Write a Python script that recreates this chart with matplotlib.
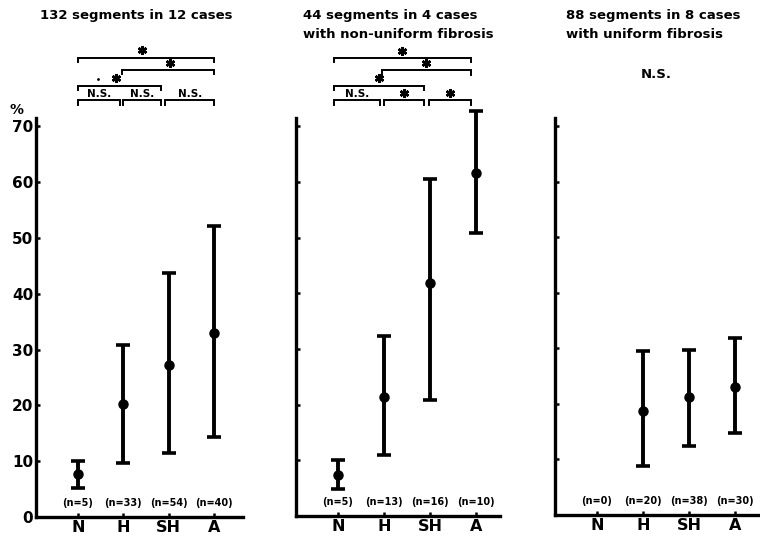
import matplotlib
matplotlib.use("Agg")
import matplotlib.pyplot as plt

plt.rcParams['font.family'] = ['DejaVu Sans']

categories = ["N", "H", "SH", "A"]

# Panel 1: 132 segments in 12 cases
p1_mean = [7.7, 20.2, 27.2, 32.9]
p1_low = [5.2, 9.7, 11.4, 14.3]
p1_high = [10.1, 30.8, 43.8, 52.1]
p1_n = ["(n=5)", "(n=33)", "(n=54)", "(n=40)"]

# Panel 2: non-uniform fibrosis
p2_mean = [7.3, 21.3, 41.9, 61.6]
p2_low = [4.8, 10.9, 20.9, 50.9]
p2_high = [10.0, 32.4, 60.5, 72.7]
p2_n = ["(n=5)", "(n=13)", "(n=16)", "(n=10)"]

# Panel 3: uniform fibrosis (no N data)
p3_mean = [None, 18.8, 21.3, 23.0]
p3_low = [None, 8.8, 12.5, 14.8]
p3_high = [None, 29.6, 29.8, 31.8]
p3_n = ["(n=0)", "(n=20)", "(n=38)", "(n=30)"]

yticks = [0, 10, 20, 30, 40, 50, 60, 70]

W, H = 760, 539
fig = plt.figure(figsize=(W / 100, H / 100), dpi=100)


def make_ax(left, right, bottom, top, xlo, xhi):
    ax = fig.add_axes([left / W, (H - bottom) / H, (right - left) / W, (bottom - top) / H])
    ax.set_xlim(xlo, xhi)
    ax.set_ylim(0, 71.5)
    for s in ["top", "right"]:
        ax.spines[s].set_visible(False)
    for s in ["left", "bottom"]:
        ax.spines[s].set_linewidth(2.4)
    ax.set_xticks(range(len(categories)))
    ax.set_xticklabels(categories, fontsize=11.5, fontweight="bold")
    ax.set_yticks(yticks)
    ax.tick_params(axis="both", direction="in", length=3, width=1.8)
    ax.tick_params(axis="x", pad=2)
    ax.tick_params(axis="y", pad=2)
    return ax


def draw_data(ax, mean, low, high, nlabels):
    for i, (m, lo, hi) in enumerate(zip(mean, low, high)):
        if m is None:
            continue
        ax.errorbar([i], [m], yerr=[[m - lo], [hi - m]], fmt="o", color="black",
                    markersize=6.5, elinewidth=2.8, capsize=5, capthick=2.6,
                    clip_on=False, zorder=3)
    for i, t in enumerate(nlabels):
        ax.text(i, 2.5, t, ha="center", va="center", fontsize=7,
                fontweight="bold")


def bracket(ax, x0, x1, y, label=None, star=None, dy=0.8):
    ax.plot([x0, x0, x1, x1], [y - dy, y, y, y - dy], color="black", lw=1.4,
            clip_on=False, solid_joinstyle="miter")
    if label is not None:
        ax.text((x0 + x1) / 2, y + 0.2, label, ha="center", va="bottom",
                fontsize=7.5, fontweight="bold")
    if star is not None:
        ax.plot([star], [y + 1.3], marker=(6, 2, 0), markersize=6.5, mew=1.8,
                color="black", clip_on=False)


# ---------- Panel 1 ----------
ax1 = make_ax(36, 243, 517, 118, -0.92, 3.63)
ax1.set_yticklabels([str(v) for v in yticks], fontsize=11, fontweight="bold")
draw_data(ax1, p1_mean, p1_low, p1_high, p1_n)
bracket(ax1, 0, 0.93, 74.7, label="N.S.")
bracket(ax1, 1.0, 1.82, 74.7, label="N.S.")
bracket(ax1, 1.92, 3.0, 74.7, label="N.S.")
bracket(ax1, 0, 1.82, 77.3, star=0.83)
ax1.plot([0.44], [78.5], marker=".", markersize=2, color="black", clip_on=False)
bracket(ax1, 0.98, 3.0, 80.1, star=2.02)
bracket(ax1, 0, 3.0, 82.3, star=1.41)
fig.text(17 / W, 1 - 110 / H, "%", fontsize=10, fontweight="bold",
         ha="center", va="center")
fig.text(136 / W, 1 - 16 / H, "132 segments in 12 cases", fontsize=9.5,
         fontweight="bold", ha="center", va="center")

# ---------- Panel 2 ----------
ax2 = make_ax(296, 500, 516, 118, -0.91, 3.52)
ax2.set_yticklabels([])
draw_data(ax2, p2_mean, p2_low, p2_high, p2_n)
bracket(ax2, -0.08, 0.92, 74.7, label="N.S.")
bracket(ax2, 1.0, 1.88, 74.7)
bracket(ax2, 1.98, 2.9, 74.7)
ax2.plot([1.44, 2.44], [76.0, 76.0], ls="none", marker=(6, 2, 0),
         markersize=6.5, mew=1.8, color="black", clip_on=False)
bracket(ax2, -0.08, 1.88, 77.3, star=0.9)
bracket(ax2, 0.95, 2.9, 80.1, star=1.92)
bracket(ax2, -0.08, 2.9, 82.3, star=1.4)
fig.text(303 / W, 1 - 15 / H, "44 segments in 4 cases", fontsize=9.5,
         fontweight="bold", ha="left", va="center")
fig.text(303 / W, 1 - 34 / H, "with non-uniform fibrosis", fontsize=9.5,
         fontweight="bold", ha="left", va="center")

# ---------- Panel 3 ----------
ax3 = make_ax(555, 762, 515, 118, -0.91, 3.58)
ax3.set_yticklabels([])
draw_data(ax3, p3_mean, p3_low, p3_high, p3_n)
fig.text(566 / W, 1 - 15 / H, "88 segments in 8 cases", fontsize=9.5,
         fontweight="bold", ha="left", va="center")
fig.text(566 / W, 1 - 34 / H, "with uniform fibrosis", fontsize=9.5,
         fontweight="bold", ha="left", va="center")
fig.text(656 / W, 1 - 75 / H, "N.S.", fontsize=9.5, fontweight="bold",
         ha="center", va="center")

fig.savefig("out.png", dpi=100)
